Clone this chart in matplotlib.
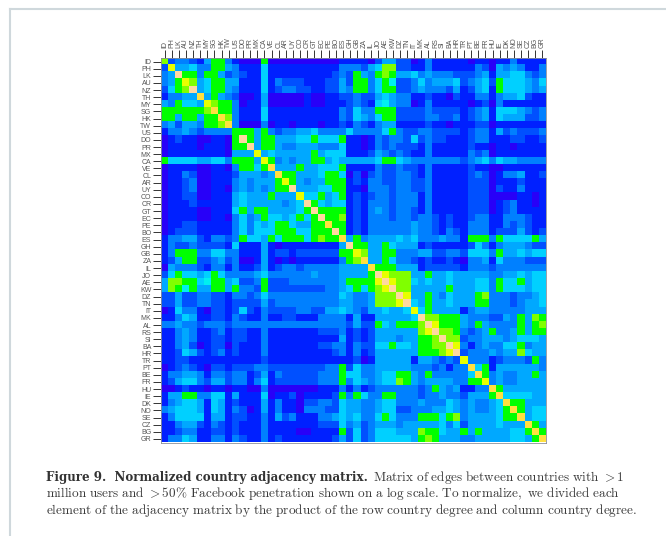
import numpy as np
import matplotlib
matplotlib.use('Agg')
import matplotlib.pyplot as plt
from matplotlib.colors import ListedColormap
from matplotlib.lines import Line2D

plt.rcParams['mathtext.fontset'] = 'cm'

countries = [
    'ID', 'PH', 'LK', 'AU', 'NZ', 'TH', 'MY', 'SG', 'HK', 'TW',
    'US', 'DO', 'PR', 'MX', 'CA',
    'VE', 'CL', 'AR', 'UY', 'CO', 'CR', 'GT', 'EC', 'PE', 'BO', 'ES',
    'GH', 'GB', 'ZA', 'IL',
    'JO', 'AE', 'KW', 'DZ', 'TN', 'IT',
    'MK', 'AL', 'RS', 'SI', 'BA', 'HR', 'TR',
    'PT', 'BE', 'FR', 'HU',
    'IE', 'DK', 'NO', 'SE', 'CZ', 'BG', 'GR',
]

upper_rows = [
    '8233214773 10007 00000000001 1110 244220 1311111 0110 1131111',
    '944533774 31115 11111111113 3324 588221 1311111 1320 4343113',
    'b7737742 32115 11111111123 2743 787445 3433322 2341 4455323',
    '9845774 41115 13222111224 2773 576223 5344452 3452 7555435',
    'b457 74 31115 12332211224 3773 577223 4333241 2451 7555434',
    'a4743 20014 00000100112 2322 454331 1211021 1331 3445211',
    '9877 30114 00000100111 2321 564330 1311111 0120 3111111',
    'a77 31115 11111111113 2533 777222 2322221 2341 5554323',
    'a8 31115 11111111113 2543 577222 2332231 2341 5444223',
    'a 30003 01101110112 1321 344111 1211011 1220 1111111',
    '77747 32334453333 5333 357322 3322221 2331 4232223',
    'b747 74445575557 1101 323325 2322111 2331 1122112',
    'b47 74334443335 1101 323222 1311111 2110 1101111',
    '94 54444474555 1112 432321 1311111 3230 1111111',
    '9 73434477454 4444 577543 3333332 3453 5443333',
    'a4447445557 1111 322322 1311111 2110 0111111',
    'a77444577 5 0202 322332 1311111 2320 1334112',
    '974344777 1213 322332 2311111 2220 1112111',
    'b44455 77 1103 332332 2311111 2220 2113111',
    '955745 7 1212 332333 1311111 2220 0001101',
    'b75455 1213 332333 1311111 2220 1231101',
    'b7777 1213 432332 1311111 2220 1231111',
    'b778 1213 332332 3321211 2331 1333211',
    'a77 1213 333334 3321211 3331 1323211',
    'b7 1213 333334 3321321 3331 2224212',
    'a 4734 444545 3334331 7773 7555574',
    'b774 475444 1211111 2531 3444322',
    '984 477333 4422332 5553 7445455',
    'a4 475332 1211210 3341 5333222',
    'a 777444 1222221 3332 3333333',
    'b98884 4744544 4443 3445455',
    'b9885 4544544 4553 7557455',
    'b884 4444744 4553 7555455',
    'b94 4743544 4783 3323345',
    'b5 4744544 4773 3323445',
    '9 5744441 3443 3333444',
    'b887774 3332 2437487',
    'b977 74 3743 3337478',
    'b887 3 2347 3347477',
    'b882 3344 4345554',
    'b93 1343 3557344',
    'b2 3334 3448544',
    '9 3331 2333273',
    'a571 4444443',
    'a73 4334474',
    '93 4334444',
    'a 7444444',
    'a555544',
    'a77444',
    'a7455',
    'a455',
    'a74',
    'a7',
    'a',
]

level_colors = [
    '#2800f8', '#0020ff', '#0050ff', '#0080ff', '#00a8ff', '#00d0ff',
    '#00f0f0', '#00ff00', '#80ff00', '#e8ff00', '#ffe040', '#ffd8a0',
]

caption_bold = 'Figure 9.  Normalized country adjacency matrix.'
caption_lines = [
    r'$\mathrm{Matrix\ of\ edges\ between\ countries\ with}\ >1$',
    r'$\mathrm{million\ users\ and}\ >50\%\ \mathrm{Facebook\ penetration\ shown\ on\ a\ log\ '
    r'scale.\,To\ normalize,\ we\ divided\ each}$',
    r'$\mathrm{element\ of\ the\ adjacency\ matrix\ by\ the\ product\ of\ the\ row\ country\ '
    r'degree\ and\ column\ country\ degree.}$',
]


def build_matrix(rows):
    n = len(rows)
    matrix = np.zeros((n, n), dtype=int)
    for i, row in enumerate(rows):
        digits = row.replace(' ', '')
        assert len(digits) == n - i, (i, len(digits))
        matrix[i, i:] = [int(d, 16) for d in digits]
        matrix[i:, i] = matrix[i, i:]
    return matrix


matrix = build_matrix(upper_rows)

W, H = 666, 536
fig = plt.figure(figsize=(W / 100, H / 100), dpi=100)

# grey page edge at the top and on the left
border = '#cfd8dc'
fig.add_artist(Line2D([9.5 / W, 9.5 / W], [0, 1 - 8.5 / H], color=border, lw=1.5))
fig.add_artist(Line2D([9.5 / W, 1], [1 - 8.5 / H, 1 - 8.5 / H], color=border, lw=1.5))

ax = fig.add_axes([161 / W, 1 - 442.5 / H, 385 / W, 384.5 / H])
ax.imshow(
    matrix,
    cmap=ListedColormap(level_colors),
    vmin=-0.5,
    vmax=len(level_colors) - 0.5,
    aspect='auto',
    interpolation='nearest',
)

ticks = np.arange(len(countries))
ax.set_xticks(ticks)
ax.set_yticks(ticks)
ax.set_xticklabels(countries, rotation=90, fontsize=5, family='Liberation Sans', color='#555555')
ax.set_yticklabels(countries, fontsize=5, family='Liberation Sans', color='#555555')
ax.xaxis.tick_top()
ax.tick_params(length=5.8, width=0.7, color='#333333', pad=1.2)
for name, spine in ax.spines.items():
    spine.set_color('#8a8f98')
    spine.set_linewidth(0.6)

fig.text(46 / W, 1 - 481 / H, caption_bold, fontsize=8.55, family='DejaVu Serif', weight='bold', color='#333333', va='baseline')
fig.text(373 / W, 1 - 481 / H, caption_lines[0], fontsize=9.5, color='#3a3a3a', va='baseline')
fig.text(46 / W, 1 - 497.5 / H, caption_lines[1], fontsize=9.5, color='#3a3a3a', va='baseline')
fig.text(46 / W, 1 - 514 / H, caption_lines[2], fontsize=9.57, color='#3a3a3a', va='baseline')

plt.savefig('out.png', dpi=100)
